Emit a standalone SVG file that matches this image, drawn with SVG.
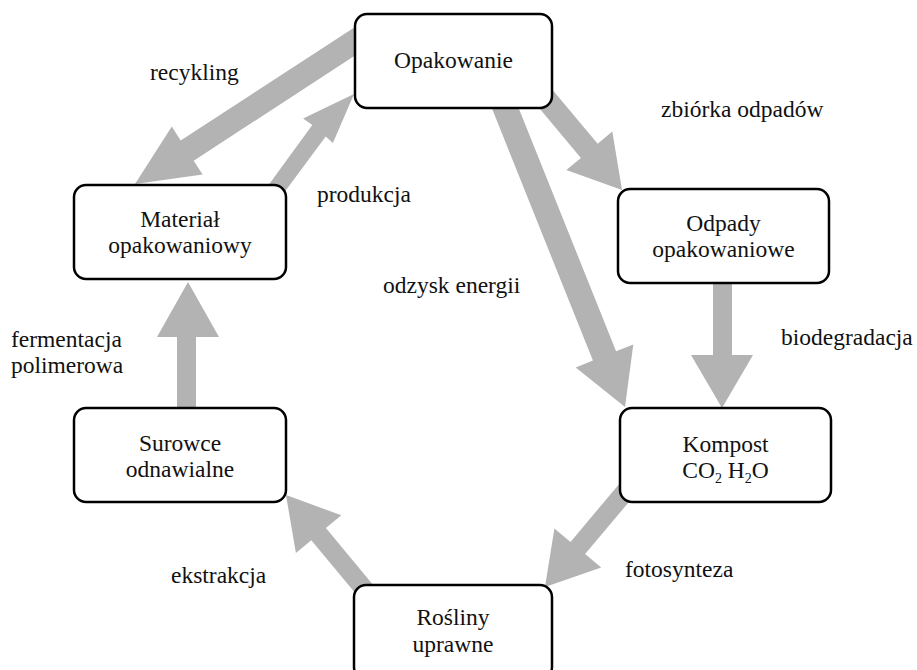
<svg xmlns="http://www.w3.org/2000/svg" width="917" height="670" viewBox="0 0 917 670">
<style>
  .arrow { fill: #b3b3b3; stroke: none; }
  .box { fill: #ffffff; stroke: #000000; stroke-width: 2.5; }
  .t { font-family: "Liberation Serif", "Times New Roman", serif; font-size: 23.5px; fill: #111111; }
  .c { text-anchor: middle; }
  .sub { font-size: 14px; }
</style>
<rect width="917" height="670" fill="#ffffff"/>
<g id="connectors">
  <polygon id="recykling-arrow" class="arrow" points="353.5,27.9 180.7,140.5 171.8,126.6 135,184 202.6,174.6 193.7,160.7 366.5,48.1"/>
  <polygon id="produkcja-arrow" class="arrow" points="267.3,186.7 312.3,125 303.1,118.5 354,94 332.9,143 325.7,136.6 280.7,197.3"/>
  <polygon id="zbiorka-arrow" class="arrow" points="526.6,93.1 580.9,158 566.3,170.1 622,190 612.3,131.6 597.7,143.8 543.4,78.9"/>
  <polygon id="odzysk-arrow" class="arrow" points="488.4,99.6 592.9,360.5 575.7,367.4 625,407 633.3,344.4 616.1,351.3 511.6,90.4"/>
  <polygon id="biodegradacja-arrow" class="arrow" points="713,270 713,355 691,355 722,408 753,355 732,355 732,270"/>
  <polygon id="fermentacja-arrow" class="arrow" points="177,420 177,337 157,337 188,282 219,337 196,337 196,420"/>
  <polygon id="fotosynteza-arrow" class="arrow" points="632.7,467.9 570.5,541.9 554.4,528.4 545,587 601.2,567.6 585.1,554.1 647.3,480.1"/>
  <polygon id="ekstrakcja-arrow" class="arrow" points="362.7,602.1 311.3,540.3 295.9,553.1 286,495 341.3,515.3 325.9,528.1 377.3,589.9"/>
  <text class="t" x="150" y="80">recykling</text>
  <text class="t" x="661" y="117">zbiórka odpadów</text>
  <text class="t" x="317" y="202">produkcja</text>
  <text class="t" x="383" y="293">odzysk energii</text>
  <text class="t" x="781" y="345">biodegradacja</text>
  <text class="t" x="11" y="347">fermentacja</text>
  <text class="t" x="11" y="373">polimerowa</text>
  <text class="t" x="171" y="583">ekstrakcja</text>
  <text class="t" x="625" y="577">fotosynteza</text>
</g>
<g id="opakowanie">
  <rect class="box" x="355" y="14" width="197" height="94" rx="12"/>
  <text class="t c" x="453.5" y="68">Opakowanie</text>
</g>
<g id="odpady">
  <rect class="box" x="618" y="189" width="211" height="94" rx="12"/>
  <text class="t c" x="723.5" y="231">Odpady</text>
  <text class="t c" x="723.5" y="257">opakowaniowe</text>
</g>
<g id="kompost">
  <rect class="box" x="620" y="408" width="211" height="94" rx="12"/>
  <text class="t c" x="725.5" y="452">Kompost</text>
  <text class="t c" x="725.5" y="478">CO<tspan class="sub" dy="5">2</tspan><tspan dy="-5"> H</tspan><tspan class="sub" dy="5">2</tspan><tspan dy="-5">O</tspan></text>
</g>
<g id="material">
  <rect class="box" x="74" y="185" width="212" height="94" rx="12"/>
  <text class="t c" x="180" y="227">Materiał</text>
  <text class="t c" x="180" y="253">opakowaniowy</text>
</g>
<g id="surowce">
  <rect class="box" x="74" y="408" width="212" height="94" rx="12"/>
  <text class="t c" x="180" y="451">Surowce</text>
  <text class="t c" x="180" y="477">odnawialne</text>
</g>
<g id="rosliny">
  <rect class="box" x="354" y="585" width="198" height="94" rx="12"/>
  <text class="t c" x="453" y="625">Rośliny</text>
  <text class="t c" x="453" y="652">uprawne</text>
</g>
</svg>
